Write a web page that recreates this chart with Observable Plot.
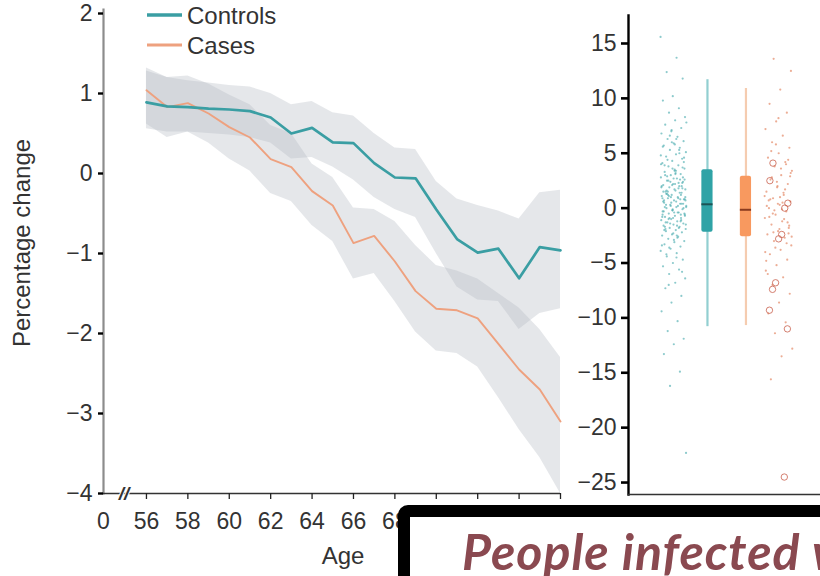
<!DOCTYPE html>
<html><head><meta charset="utf-8">
<script src="https://cdn.jsdelivr.net/npm/d3@7"></script>
<script src="https://cdn.jsdelivr.net/npm/@observablehq/plot@0.6"></script>
<style>
html,body{margin:0;padding:0;background:#fff;overflow:hidden;}
#root{position:relative;width:820px;height:576px;overflow:hidden;font-family:"Liberation Sans",Arial,sans-serif;color:#333;background:#fff;}
#left,#right,#annot,#overlayText{position:absolute;top:0;}
#left{left:0;}
#right{left:575px;}
#annot,#overlayText{left:0;pointer-events:none;}
#overlayBox{position:absolute;left:398px;top:505px;width:600px;height:200px;border:12px solid #000;border-radius:10px;background:#fff;box-sizing:border-box;}
</style>
</head><body>
<div id="root">
  <div id="left"></div>
  <div id="right"></div>
  <svg id="annot" width="820" height="576"></svg>
  <div id="overlayBox"></div>
  <svg id="overlayText" width="820" height="576"></svg>
</div>
<script>
// ---------- Left panel data ----------
const ages = [56,57,58,59,60,61,62,63,64,65,66,67,68,69,70,71,72,73,74,75,76];
const controls   = [0.89,0.84,0.83,0.81,0.80,0.78,0.70,0.50,0.57,0.39,0.38,0.13,-0.05,-0.06,-0.45,-0.82,-0.99,-0.94,-1.31,-0.92,-0.96];
const controlsHi = [1.28,1.20,1.16,1.13,1.10,1.08,1.00,0.86,0.90,0.76,0.72,0.50,0.32,0.30,-0.10,-0.32,-0.40,-0.47,-0.57,-0.24,-0.21];
const controlsLo = [0.56,0.52,0.52,0.50,0.48,0.45,0.38,0.18,0.20,0.08,-0.08,-0.30,-0.45,-0.55,-1.00,-1.42,-1.58,-1.60,-1.95,-1.75,-1.69];
const cases      = [1.04,0.83,0.88,0.75,0.58,0.45,0.18,0.08,-0.22,-0.40,-0.87,-0.78,-1.10,-1.47,-1.69,-1.71,-1.81,-2.13,-2.45,-2.70,-3.10];
const casesHi    = [1.32,1.20,1.22,1.12,0.98,0.86,0.60,0.50,0.12,-0.05,-0.43,-0.45,-0.60,-0.90,-1.15,-1.22,-1.32,-1.50,-1.68,-1.95,-2.30];
const casesLo    = [0.62,0.45,0.52,0.38,0.18,0.03,-0.25,-0.35,-0.65,-0.85,-1.32,-1.25,-1.60,-1.98,-2.22,-2.25,-2.42,-2.80,-3.20,-3.55,-4.00];
const ageTicks = [56,58,60,62,64,66,68,70,72,74,76];
const ageTickLabels = ["56","58","60","62","64","66","68","","","",""]; // 70–76 hidden behind the caption box
const yTicksLeft = [-4,-3,-2,-1,0,1,2];
const seriesNames = ["Controls","Cases"];

// ---------- Right panel data ----------
const controlsPoints = [15.6,13.7,12.4,11.8,10.2,9.8,9.1,8.7,8.3,8.0,7.6,7.3,7.0,6.8,6.5,6.3,6.1,5.9,5.7,5.5,5.3,5.1,4.9,4.7,4.5,4.3,4.1,3.9,3.8,3.6,3.4,3.3,3.1,3.0,2.8,2.7,2.5,2.4,2.2,2.1,2.0,1.9,1.7,1.6,1.5,1.4,1.2,1.1,1.0,0.9,0.8,0.7,0.5,0.4,0.3,0.2,0.1,0.0,-0.1,-0.2,-0.3,-0.4,-0.5,-0.6,-0.7,-0.8,-0.9,-1.0,-1.1,-1.2,-1.3,-1.4,-1.5,-1.6,-1.7,-1.8,-1.9,-2.0,-2.1,-2.2,-2.4,-2.5,-2.6,-2.8,-3.0,-3.1,-3.3,-3.5,-3.7,-3.9,-4.1,-4.4,-4.7,-5.0,-5.3,-5.6,-6.0,-6.4,-6.8,-7.3,-8.0,-8.6,-9.4,-10.3,-11.2,-11.9,-12.4,-13.3,-14.9,-16.2,-22.3,
  0.6,1.3,2.3,-0.2,0.9,1.8,-1.0,2.6,3.5,0.1,-0.6,1.0,4.0,-1.6,2.9,0.4,-2.3,1.5,5.0,-0.9,0.7,3.2,-1.3,2.0,6.0,-3.4,0.2,1.2,4.6,-0.4,-2.0,0.8,2.4,7.8,-4.5,1.6,3.7,-0.1,5.6,-1.8,
  1.1,-0.7,2.2,3.0,-1.1,0.5,1.9,-2.7,4.4,0.0,2.7,-0.3,1.4,6.6,-1.5,3.4,0.3,-5.8,2.1,-0.8,
  0.9,2.5,-0.5,1.7,3.9,-1.2,0.2,4.8,-2.5,1.3,2.8,-0.9,0.6,5.3,-3.6,1.0,3.1,-1.9,0.4,7.1,
  2.0,-0.4,1.5,4.2,-2.9,0.7,2.6,-1.4,0.1,6.3,-4.2,1.8,3.6,-0.6,2.3,-7.0,0.8,5.8,-1.7,1.2];
const casesPoints = [13.6,12.5,10.8,9.5,8.7,7.9,7.2,6.6,6.0,5.5,5.0,4.6,4.2,3.8,3.4,3.0,2.6,2.2,1.9,1.5,1.2,0.9,0.6,0.3,0.0,-0.3,-0.6,-0.9,-1.2,-1.5,-1.8,-2.1,-2.4,-2.7,-3.0,-3.4,-3.8,-4.2,-4.7,-5.2,-5.7,-6.3,-7.0,-7.8,-8.6,-9.6,-10.4,-11.4,-12.8,-13.5,-15.6,
  4.4,2.0,0.2,-1.0,-2.2,3.2,1.0,-0.8,-3.2,5.8,-4.0,0.5,2.8,-1.6,8.2,-6.0,1.7,-0.2,-2.6,3.6,0.8,-1.3,2.4,-4.8,
  1.4,-0.5,2.9,-1.9,0.7,4.0,-3.6,1.1,-0.1,5.2,-2.3,0.4];
const casesCircles = [4.1,2.5,0.45,0.0,-2.4,-2.8,-6.8,-7.4,-9.3,-11.0,-24.5];
const boxGroups   = ["Controls","Cases"];
const whiskerLo   = [-10.8,-10.7];
const boxQ1       = [-2.2,-2.6];
const boxMedian   = [0.35,-0.15];
const boxQ3       = [3.5,2.9];
const whiskerHi   = [11.7,10.9];
const yTicksRight = [15,10,5,0,-5,-10,-15,-20,-25];

// ---------- styling / layout ----------
const teal = "#3a9ea3", orange = "#eea17f", bandFill = "#b4b8c0";
const font = "Liberation Sans, Arial, sans-serif";
const xZero = 53.925;                 // position of the "0" label before the axis break
const breakAt = (xZero + 56) / 2 - 0.05;
const slot = {ctrlPts: 1.0, ctrlBox: 1.97, casesBox: 3.07, casesPts: 4.0};
const jitter = i => ((i * 0.6180339887) % 1) - 0.5;
const minus = d => d < 0 ? "\u2212" + Math.abs(d) : String(d);

const rows = ages.map((age, i) => ({age, controls: controls[i], controlsHi: controlsHi[i], controlsLo: controlsLo[i],
  cases: cases[i], casesHi: casesHi[i], casesLo: casesLo[i]}));

const left = Plot.plot({
  width: 575, height: 576,
  marginLeft: 103, marginRight: 15, marginTop: 13, marginBottom: 83,
  style: {fontFamily: font, background: "transparent"},
  x: {domain: [xZero, 76], axis: null},
  y: {domain: [-4, 2], axis: null},
  marks: [
    Plot.areaY(rows, {x: "age", y1: "controlsLo", y2: "controlsHi", fill: bandFill, fillOpacity: 0.34}),
    Plot.areaY(rows, {x: "age", y1: "casesLo", y2: "casesHi", fill: bandFill, fillOpacity: 0.34}),
    Plot.lineY(rows, {x: "age", y: "cases", stroke: orange, strokeWidth: 1.9}),
    Plot.lineY(rows, {x: "age", y: "controls", stroke: teal, strokeWidth: 2.7}),
    Plot.frame({anchor: "left", stroke: "#8c8c8c", strokeWidth: 2.2, insetTop: -4}),
    Plot.ruleY([-4], {x1: xZero, x2: 76, stroke: "#333", strokeWidth: 1.4}),
    Plot.axisY({ticks: yTicksLeft, tickSize: 5, tickPadding: 6, fontSize: 23, stroke: "#000", strokeWidth: 2.4, fill: "#333", label: null, tickFormat: minus}),
    Plot.axisX({ticks: ageTicks, tickSize: 6, tickPadding: 13, fontSize: 23, stroke: "#222", strokeWidth: 1.3, fill: "#333", label: null,
      tickFormat: d => ageTickLabels[ageTicks.indexOf(d)]}),
    Plot.axisX({ticks: [xZero], tickSize: 0, tickPadding: 19, fontSize: 23, fill: "#333", label: null, tickFormat: () => "0"}),
    Plot.text([breakAt], {x: d => d, y: () => -4, text: () => "//", fontSize: 19, fontWeight: "bold", fill: "#333", stroke: "white", strokeWidth: 2, fontStyle: "italic"})
  ]
});
document.getElementById("left").appendChild(left);

const right = Plot.plot({
  width: 245, height: 576,
  marginLeft: 53, marginRight: 0, marginTop: 15, marginBottom: 82,
  style: {fontFamily: font, background: "transparent"},
  x: {domain: [-0.286, 5.2], axis: null},
  y: {domain: [-26.09, 17.55], axis: null},
  marks: [
    Plot.dot(controlsPoints, {x: (d, i) => slot.ctrlPts + jitter(i) * 0.74, y: d => d, r: 1.1, fill: "#4eaeb1", fillOpacity: 0.65}),
    Plot.dot(casesPoints, {x: (d, i) => slot.casesPts + jitter(i + 7) * 0.8, y: d => d, r: 1.1, fill: "#e48a68", fillOpacity: 0.7}),
    Plot.dot(casesCircles, {x: (d, i) => slot.casesPts + jitter(i * 3 + 2) * 0.6, y: d => d, r: 3.2, stroke: "#c9624f", strokeWidth: 1, strokeOpacity: 0.8, fill: "none"}),
    Plot.ruleX(boxGroups, {x: (d, i) => i === 0 ? slot.ctrlBox : slot.casesBox, y1: (d, i) => whiskerLo[i], y2: (d, i) => whiskerHi[i],
      stroke: (d, i) => i === 0 ? "#92cfd1" : "#f5ccb0", strokeWidth: 2.2}),
    Plot.rect(boxGroups, {x1: (d, i) => (i === 0 ? slot.ctrlBox : slot.casesBox) - 0.16, x2: (d, i) => (i === 0 ? slot.ctrlBox : slot.casesBox) + 0.16,
      y1: (d, i) => boxQ1[i], y2: (d, i) => boxQ3[i], fill: (d, i) => i === 0 ? "#2fa3a6" : "#f8995f", rx: 2}),
    Plot.ruleY(boxGroups, {x1: (d, i) => (i === 0 ? slot.ctrlBox : slot.casesBox) - 0.16, x2: (d, i) => (i === 0 ? slot.ctrlBox : slot.casesBox) + 0.16,
      y: (d, i) => boxMedian[i], stroke: (d, i) => i === 0 ? "#1d5355" : "#8a3b1e", strokeWidth: 2}),
    Plot.frame({anchor: "left", stroke: "#000", strokeWidth: 2.4}),
    Plot.frame({anchor: "bottom", stroke: "#333", strokeWidth: 1.6}),
    Plot.axisY({ticks: yTicksRight, tickSize: 7, tickPadding: 5, fontSize: 23, stroke: "#000", strokeWidth: 2.6, fill: "#333", label: null, tickFormat: minus})
  ]
});
document.getElementById("right").appendChild(right);

// ---------- annotations: legend and axis titles ----------
const annot = d3.select("#annot");
const legendRows = [{name: seriesNames[0], color: teal, w: 3.6, y: 15}, {name: seriesNames[1], color: orange, w: 3.2, y: 45}];
legendRows.forEach(r => {
  annot.append("line").attr("x1", 147).attr("x2", 182).attr("y1", r.y).attr("y2", r.y).attr("stroke", r.color).attr("stroke-width", r.w);
  annot.append("text").attr("x", 187).attr("y", r.y + 9).attr("font-family", font).attr("font-size", 24).attr("fill", "#333").text(r.name);
});
annot.append("text").attr("x", 343).attr("y", 564).attr("text-anchor", "middle").attr("font-family", font).attr("font-size", 24).attr("fill", "#333").text("Age");
annot.append("text").attr("transform", "translate(30,243) rotate(-90)").attr("text-anchor", "middle").attr("font-family", font).attr("font-size", 24).attr("fill", "#333").text("Percentage change");

// ---------- overlay caption ----------
d3.select("#overlayText").append("text").attr("x", 462).attr("y", 570)
  .attr("font-family", "Lato, 'Open Sans', sans-serif").attr("font-weight", 700).attr("font-style", "italic")
  .attr("font-size", 50).attr("letter-spacing", 1).attr("fill", "#8a4950").text("People infected w");
</script>
</body></html>
